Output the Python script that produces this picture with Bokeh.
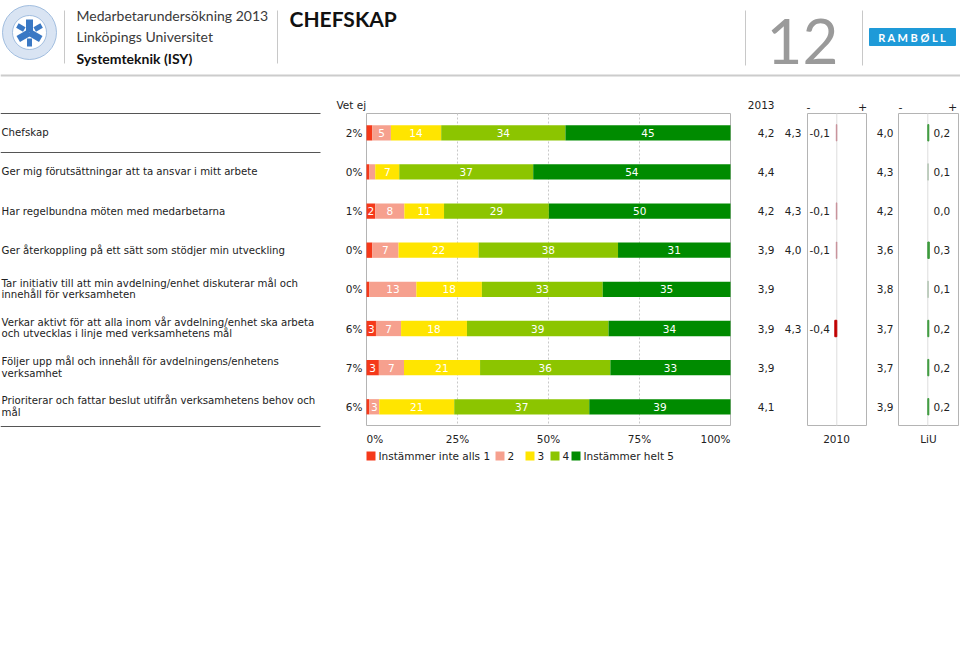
import math
from bokeh.plotting import figure
from bokeh.models import Range1d, ColumnDataSource
from bokeh.core.properties import value
from bokeh.embed import file_html
from bokeh.resources import INLINE

# ---------------- data ----------------
questions = [
    "Chefskap",
    "Ger mig förutsättningar att ta ansvar i mitt arbete",
    "Har regelbundna möten med medarbetarna",
    "Ger återkoppling på ett sätt som stödjer min utveckling",
    "Tar initiativ till att min avdelning/enhet diskuterar mål och\ninnehåll för verksamheten",
    "Verkar aktivt för att alla inom vår avdelning/enhet ska arbeta\noch utvecklas i linje med verksamhetens mål",
    "Följer upp mål och innehåll för avdelningens/enhetens\nverksamhet",
    "Prioriterar och fattar beslut utifrån verksamhetens behov och\nmål",
]
vet_ej = [2, 0, 1, 0, 0, 6, 7, 6]
levels = ["Instämmer inte alls 1", "2", "3", "4", "Instämmer helt 5"]
s1 = [1.6, 0.8, 2.4, 1.6, 0.8, 2.6, 3.4, 0.8]
s2 = [5.1, 1.6, 8.0, 7.2, 12.9, 6.9, 6.9, 2.7]
s3 = [13.8, 6.6, 10.9, 22.0, 18.0, 18.1, 20.9, 20.6]
s4 = [34.1, 36.8, 28.8, 38.3, 33.2, 38.9, 35.8, 37.1]
s5 = [45.3, 54.2, 49.9, 30.9, 35.1, 33.5, 33.0, 38.8]
idx_2013 = [4.2, 4.4, 4.2, 3.9, 3.9, 3.9, 3.9, 4.1]
idx_2010 = [4.3, None, 4.3, 4.0, None, 4.3, None, None]
diff_2010 = [-0.1, None, -0.1, -0.1, None, -0.4, None, None]
idx_liu = [4.0, 4.3, 4.2, 3.6, 3.8, 3.7, 3.7, 3.9]
diff_liu = [0.2, 0.1, 0.0, 0.3, 0.1, 0.2, 0.2, 0.2]
pct_ticks = [0, 25, 50, 75, 100]

# ---------------- styles ----------------
colors = ["#f5391a", "#f6a08e", "#ffe500", "#8cc500", "#008b00"]
FONT = value("DejaVu Sans")
HFONT = value("Lato")
TXT = "#222222"
GRID = "#b4b4b4"

W, H = 960, 656
p = figure(width=W, height=H, output_backend="svg", toolbar_location=None,
           x_range=Range1d(0, W), y_range=Range1d(H, 0),
           min_border=0, x_axis_location=None, y_axis_location=None,
           outline_line_color=None, background_fill_color="white")
p.xgrid.visible = False
p.ygrid.visible = False

# scales: pct for bars, row index for rows, diff scales
PX0, PX100 = 366.0, 730.0
k = (PX100 - PX0) / 100.0
p.extra_x_ranges["pct"] = Range1d((0 - PX0) / k, (W - PX0) / k)
R0, DR = 132.3, 39.14
p.extra_y_ranges["row"] = Range1d((H - R0) / DR, (0 - R0) / DR)
DK = 5.0
C10, CLIU = 836.3, 927.3
p.extra_x_ranges["d10"] = Range1d((0 - C10) / DK, (W - C10) / DK)
p.extra_x_ranges["dliu"] = Range1d((0 - CLIU) / DK, (W - CLIU) / DK)

n = len(questions)
rows = list(range(n))

# ---------------- header ----------------
p.text(x=[76, 76], y=[15, 36], text=["Medarbetarundersökning 2013", "Linköpings Universitet"],
       text_font=HFONT, text_font_size="14px", text_color="#3a3a3a",
       text_baseline="middle", text_align="left")
p.text(x=[76], y=[58], text=["Systemteknik (ISY)"], text_font=HFONT, text_font_size="14px",
       text_font_style="bold", text_color="#111111", text_baseline="middle")
p.text(x=[289], y=[18], text=["CHEFSKAP"], text_font=HFONT, text_font_size="21px",
       text_font_style="bold", text_color="#111111", text_baseline="middle")
p.text(x=[802], y=[41], text=["12"], text_font=HFONT, text_font_size="62px",
       text_color="#9a9a9a", text_baseline="middle", text_align="center")
p.segment(x0=[64, 277, 745, 862], y0=[10, 10, 10, 10], x1=[64, 277, 745, 862], y1=[63, 63, 65, 65],
          line_color="#c8c8c8", line_width=1)
p.segment(x0=[0], y0=[75], x1=[W], y1=[75], line_color="#cccccc", line_width=2)
# Ramboll logo
p.quad(left=[869], right=[955], top=[28], bottom=[45], fill_color="#1e9ad8", line_color="#1e9ad8")
p.text(x=[912], y=[37], text=["R A M B Ø L L"], text_font=HFONT, text_font_size="11px",
       text_font_style="bold", text_color="white", text_align="center", text_baseline="middle")
# LiU logo
p.annulus(x=[29], y=[32], inner_radius=17, outer_radius=27, fill_color="#aac4e4",
          fill_alpha=0.45, line_color="#8fb0d8", line_alpha=0.8)
for a in (90, 210, 330):
    r = math.radians(a)
    p.segment(x0=[29], y0=[32], x1=[29 + 13 * math.cos(r)], y1=[32 - 13 * math.sin(r)],
              line_color="#3a78c4", line_width=7)
for a in (30, 150, 270):
    r = math.radians(a)
    p.segment(x0=[29 + 6 * math.cos(r)], y0=[32 - 6 * math.sin(r)],
              x1=[29 + 14 * math.cos(r)], y1=[32 - 14 * math.sin(r)],
              line_color="#3a78c4", line_width=5)

# ---------------- left labels ----------------
p.segment(x0=[0, 0, 0], y0=[113, 152, 426], x1=[320, 320, 320], y1=[113, 152, 426],
          line_color="#555555", line_width=1)
lx, ly, lt = [], [], []
for r, q in enumerate(questions):
    parts = q.split("\n")
    if len(parts) == 1:
        lx.append(1); ly.append(r); lt.append(parts[0])
    else:
        lx += [1, 1]; ly += [r - 0.16, r + 0.14]; lt += parts
p.text(x=lx, y=ly, text=lt, y_range_name="row", text_font=FONT, text_font_size="10.2px",
       text_color=TXT, text_baseline="middle", text_align="left")

# ---------------- bar frame ----------------
p.quad(left=[0], right=[100], top=[113], bottom=[425], x_range_name="pct",
       fill_color=None, line_color=GRID, line_width=1)
p.segment(x0=pct_ticks[1:-1], x1=pct_ticks[1:-1], y0=[113] * 3, y1=[425] * 3, x_range_name="pct",
          line_color="#c8c8c8", line_dash="2 2", line_width=1)

# ---------------- stacked bars ----------------
series = [s1, s2, s3, s4, s5]
bl, br, by, bc, mx, my, mt = [], [], [], [], [], [], []
for r in rows:
    tot = sum(s[r] for s in series)
    cum = 0.0
    for j, s in enumerate(series):
        v = s[r]
        left = cum / tot * 100
        right = (cum + v) / tot * 100
        bl.append(left); br.append(right); by.append(r); bc.append(colors[j])
        if v >= 2.2:
            mx.append((left + right) / 2); my.append(r); mt.append(str(round(v)))
        cum += v
p.hbar(y="y", left="l", right="r", height=0.39, fill_color="c", line_color=None,
       source=ColumnDataSource(dict(y=by, l=bl, r=br, c=bc)),
       x_range_name="pct", y_range_name="row")
p.text(x=mx, y=my, text=mt, x_range_name="pct", y_range_name="row", text_font=FONT,
       text_font_size="10.5px", text_color="white", text_align="center", text_baseline="middle")

# Vet ej
p.text(x=[336], y=[104], text=["Vet ej"], text_font=FONT, text_font_size="10.5px",
       text_color=TXT, text_baseline="middle")
p.text(x=[362] * n, y=rows, text=[f"{v}%" for v in vet_ej], y_range_name="row",
       text_font=FONT, text_font_size="10.5px", text_color=TXT, text_align="right",
       text_baseline="middle")

# pct tick labels
aligns = ["left"] + ["center"] * (len(pct_ticks) - 2) + ["right"]
for t, a in zip(pct_ticks, aligns):
    p.text(x=[t], y=[438], text=[f"{t}%"], x_range_name="pct", text_font=FONT,
           text_font_size="10.5px", text_color=TXT, text_align=a, text_baseline="middle")

# ---------------- index columns ----------------
fmt = lambda v: f"{v:.1f}".replace(".", ",")
p.text(x=[774], y=[104], text=["2013"], text_font=FONT, text_font_size="10.5px",
       text_color=TXT, text_align="right", text_baseline="middle")
p.text(x=[808, 862, 900, 952], y=[106] * 4, text=["-", "+", "-", "+"], text_font=FONT,
       text_font_size="11px", text_color=TXT, text_align="center", text_baseline="middle")
p.text(x=[774] * n, y=rows, text=[fmt(v) for v in idx_2013], y_range_name="row",
       text_font=FONT, text_font_size="10.5px", text_color=TXT, text_align="right",
       text_baseline="middle")
r10 = [r for r in rows if idx_2010[r] is not None]
p.text(x=[801] * len(r10), y=r10, text=[fmt(idx_2010[r]) for r in r10], y_range_name="row",
       text_font=FONT, text_font_size="10.5px", text_color=TXT, text_align="right",
       text_baseline="middle")
p.text(x=[809] * len(r10), y=r10, text=[fmt(diff_2010[r]) for r in r10], y_range_name="row",
       text_font=FONT, text_font_size="10.5px", text_color=TXT, text_align="left",
       text_baseline="middle")
p.text(x=[893] * n, y=rows, text=[fmt(v) for v in idx_liu], y_range_name="row",
       text_font=FONT, text_font_size="10.5px", text_color=TXT, text_align="right",
       text_baseline="middle")
p.text(x=[933] * n, y=rows, text=[fmt(v) for v in diff_liu], y_range_name="row",
       text_font=FONT, text_font_size="10.5px", text_color=TXT, text_align="left",
       text_baseline="middle")

# boxes
p.quad(left=[807, 898], right=[866, 958], top=[113, 113], bottom=[425, 425],
       fill_color=None, line_color=GRID, line_width=1)
p.segment(x0=[0], x1=[0], y0=[113], y1=[425], x_range_name="d10", line_color="#dddddd")
p.segment(x0=[0], x1=[0], y0=[113], y1=[425], x_range_name="dliu", line_color="#dddddd")
p.text(x=[836, 928], y=[438, 438], text=["2010", "LiU"], text_font=FONT,
       text_font_size="10.5px", text_color=TXT, text_align="center", text_baseline="middle")


def dcol(d):
    if d < 0:
        return "#c00000" if d <= -0.2 else "#c8929a"
    return "#3c9a3c" if d >= 0.2 else "#b8c8b8"


for name, diffs in (("d10", diff_2010), ("dliu", diff_liu)):
    rr = [r for r in rows if diffs[r] is not None and diffs[r] != 0]
    p.hbar(y="y", left=0, right="d", height=0.42, fill_color="c", line_color="c", line_width=1,
           source=ColumnDataSource(dict(y=rr, d=[diffs[r] for r in rr],
                                        c=[dcol(diffs[r]) for r in rr])),
           x_range_name=name, y_range_name="row")

# ---------------- legend ----------------
lg_x = [366, 495, 525, 550, 571]
p.quad(left=lg_x, right=[x + 9 for x in lg_x], top=[451] * 5, bottom=[460] * 5,
       fill_color=colors, line_color=None)
p.text(x=[x + 12 for x in lg_x], y=[455.5] * 5, text=levels, text_font=FONT,
       text_font_size="10.5px", text_color=TXT, text_align="left", text_baseline="middle")

open("out.html", "w").write(file_html(p, INLINE))
